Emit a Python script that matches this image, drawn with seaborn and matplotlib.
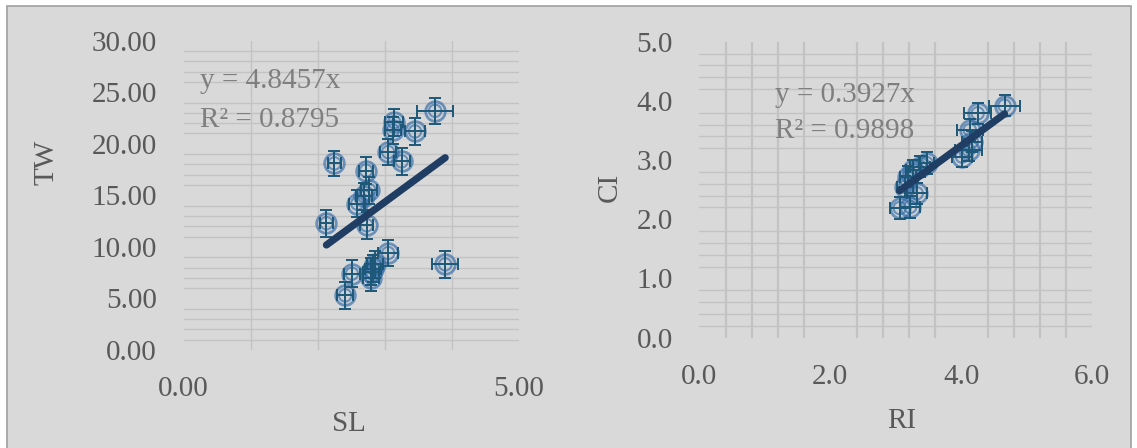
import numpy as np
import seaborn as sns
import matplotlib.pyplot as plt
from matplotlib.patches import Rectangle
from matplotlib.ticker import MultipleLocator, FixedLocator, FixedFormatter


# Left panel: SL vs TW
SL = [3.75, 3.14, 3.12, 3.45, 3.05, 3.25, 2.25, 2.72, 2.77, 2.69, 2.59,
      2.13, 2.73, 3.05, 2.85, 2.80, 2.51, 2.41, 3.90, 2.80, 2.83]
TW = [23.2, 22.1, 21.3, 21.2, 19.2, 18.3, 18.1, 17.4, 15.5, 14.9, 14.2,
      12.3, 12.1, 9.4, 8.3, 7.6, 7.4, 5.3, 8.3, 7.0, 7.9]
SL_ERR = [0.27, 0.13, 0.12, 0.15, 0.12, 0.12, 0.10, 0.10, 0.12, 0.12, 0.12,
          0.10, 0.10, 0.15, 0.12, 0.12, 0.12, 0.12, 0.19, 0.12, 0.12]
TW_ERR = [1.25, 1.3, 1.3, 1.3, 1.25, 1.3, 1.25, 1.3, 1.3, 1.3, 1.3,
          1.3, 1.3, 1.3, 1.3, 1.3, 1.3, 1.3, 1.3, 1.3, 1.3]
TW_EQ = ["y = 4.8457x", "R² = 0.8795"]

# Right panel: RI vs CI
RI = [4.66, 4.25, 4.13, 4.16, 4.11, 4.01, 3.37, 3.27, 3.19, 3.14, 3.32,
      3.06, 3.22, 3.47]
CI = [3.92, 3.79, 3.51, 3.31, 3.17, 3.06, 2.89, 2.83, 2.72, 2.55, 2.44,
      2.19, 2.21, 2.95]
RI_ERR = [0.23, 0.21, 0.20, 0.15, 0.20, 0.15, 0.15, 0.12, 0.12, 0.12, 0.15,
          0.15, 0.15, 0.12]
CI_ERR = [0.18] * 14
CI_EQ = ["y = 0.3927x", "R² = 0.9898"]

# Axis ticks
SL_TICKS = [0, 5]
SL_LABELS = ["0.00", "5.00"]
TW_TICKS = [0, 5, 10, 15, 20, 25, 30]
TW_LABELS = ["0.00", "5.00", "10.00", "15.00", "20.00", "25.00", "30.00"]
RI_TICKS = [0, 2, 4, 6]
RI_LABELS = ["0.0", "2.0", "4.0", "6.0"]
CI_TICKS = [0, 1, 2, 3, 4, 5]
CI_LABELS = ["0.0", "1.0", "2.0", "3.0", "4.0", "5.0"]

BG = "#d9d9d9"
GRID = "#c3c3c3"
TEXT = "#595959"
EQ_COLOR = "#7f7f7f"
RING = (0.20, 0.42, 0.66, 0.65)
ERR = "#1d5878"
LINE = "#203d63"

sns.set_theme(style="white")
plt.rcParams["font.family"] = ["Liberation Serif", "DejaVu Serif"]

fig = plt.figure(figsize=(11.37, 4.48), dpi=100)
fig.patch.set_facecolor("white")
fig.patches.append(Rectangle((7 / 1137, -0.05), 1124 / 1137, 1.05 - 6 / 448,
                             transform=fig.transFigure, facecolor=BG,
                             edgecolor="#a0a0a0", linewidth=1.2, zorder=-10))

ax1 = fig.add_axes([183.5 / 1137, 98 / 448, 335.5 / 1137, 309.3 / 448])
ax2 = fig.add_axes([699.3 / 1137, 110.3 / 448, 393 / 1137, 296 / 448])


def panel(ax, x, y, xerr, yerr, eq, xlim, ylim, xt, xl, yt, yl,
          xminor, yminor, xlabel, ylabel, xlab_pos, ylab_pos, eq_pos,
          vgrid_lw, major_gap):
    ax.set_facecolor("none")
    for spine in ax.spines.values():
        spine.set_visible(False)

    ax.set_xlim(*xlim)
    ax.set_ylim(*ylim)
    ax.xaxis.set_major_locator(FixedLocator(xt))
    ax.xaxis.set_major_formatter(FixedFormatter(xl))
    ax.yaxis.set_major_locator(FixedLocator(yt))
    ax.yaxis.set_major_formatter(FixedFormatter(yl))
    ax.xaxis.set_minor_locator(MultipleLocator(xminor))
    ax.yaxis.set_minor_locator(MultipleLocator(yminor))
    ax.tick_params(which="both", length=0, labelsize=21, labelcolor=TEXT,
                   pad=19)

    # only minor gridlines, like the original
    ax.set_axisbelow(True)
    ax.grid(False, which="major")
    ax.grid(True, which="minor", axis="y", color=GRID, linewidth=1.0)
    ax.grid(True, which="minor", axis="x", color=GRID, linewidth=vgrid_lw)
    if major_gap:
        ax.grid(True, which="major", axis="x", color=BG, linewidth=1.6)

    # markers: outer and inner ring
    sns.scatterplot(x=x, y=y, ax=ax, marker="o", s=200,
                    facecolor=(0.30, 0.45, 0.65, 0.06), edgecolor=RING,
                    linewidth=2.0, zorder=3)
    sns.scatterplot(x=x, y=y, ax=ax, marker="o", s=80, facecolor="none",
                    edgecolor=RING, linewidth=1.5, zorder=3)
    ax.errorbar(x, y, xerr=xerr, yerr=yerr, fmt="none", ecolor=ERR,
                elinewidth=1.4, capsize=4.5, capthick=1.4, zorder=4)

    # linear trend through origin, drawn over the data range
    xa = np.array(x)
    ya = np.array(y)
    slope = (xa * ya).sum() / (xa * xa).sum()
    xs = np.array([xa.min(), xa.max()])
    sns.lineplot(x=xs, y=slope * xs, ax=ax, color=LINE, linewidth=5.2,
                 solid_capstyle="round", zorder=5)

    ax.text(eq_pos[0], eq_pos[1], eq[0], transform=ax.transAxes,
            fontsize=21, color=EQ_COLOR, va="baseline", ha="left")
    ax.text(eq_pos[0], eq_pos[2], eq[1], transform=ax.transAxes,
            fontsize=21, color=EQ_COLOR, va="baseline", ha="left")

    ax.set_xlabel(xlabel, fontsize=21, color=TEXT, va="center")
    ax.set_ylabel(ylabel, fontsize=21, color=TEXT, va="center")
    ax.xaxis.set_label_coords(*xlab_pos)
    ax.yaxis.set_label_coords(*ylab_pos)


panel(ax1, SL, TW, SL_ERR, TW_ERR, TW_EQ, (0, 5), (0, 30),
      SL_TICKS, SL_LABELS, TW_TICKS, TW_LABELS, 1, 1, "SL", "TW",
      (0.493, -0.239), (-0.409, 0.605), (0.049, 0.846, 0.722), 1.0, False)

panel(ax2, RI, CI, RI_ERR, CI_ERR, CI_EQ, (0, 6), (0, 5),
      RI_TICKS, RI_LABELS, CI_TICKS, CI_LABELS, 0.4, 0.2, "RI", "CI",
      (0.516, -0.281), (-0.227, 0.509), (0.193, 0.797, 0.674), 1.6, True)

fig.savefig("out.png", dpi=100, facecolor=fig.get_facecolor())
